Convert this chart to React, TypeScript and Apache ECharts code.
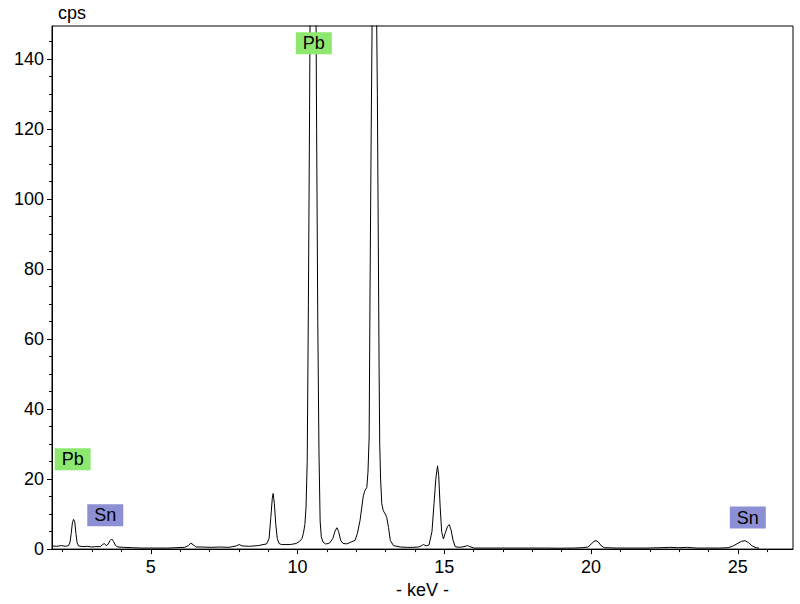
import React, { useEffect, useRef } from "react";
import * as echarts from "echarts";

// Spectrum: energy (keV) and count rate (cps)
const energyKeV = [
  1.64, 1.8, 1.95, 2.1, 2.2, 2.25, 2.29, 2.33, 2.37, 2.41, 2.45, 2.49, 2.54, 2.69, 2.84, 2.99,
  3.13, 3.28, 3.36, 3.42, 3.48, 3.54, 3.61, 3.67, 3.73, 3.8, 3.88, 4.08, 4.37, 4.67, 4.97, 5.27,
  5.57, 5.86, 6.16, 6.28, 6.36, 6.44, 6.54, 6.76, 7.06, 7.36, 7.66, 7.91, 8.01, 8.11, 8.36, 8.66,
  8.95, 9.03, 9.09, 9.14, 9.17, 9.21, 9.26, 9.31, 9.37, 9.45, 9.75, 9.95, 10.07, 10.15, 10.2, 10.25,
  10.29, 10.33, 10.37, 10.41, 10.45, 10.49, 10.53, 10.57, 10.61, 10.65, 10.69, 10.73, 10.77, 10.81,
  10.87, 10.95, 11.0, 11.1, 11.2, 11.28, 11.34, 11.4, 11.47, 11.55, 11.68, 11.79, 11.96, 12.04,
  12.13, 12.24, 12.3, 12.36, 12.4, 12.44, 12.47, 12.51, 12.54, 12.58, 12.61, 12.65, 12.68, 12.72,
  12.75, 12.78, 12.8, 12.83, 12.87, 12.92, 12.99, 13.04, 13.1, 13.16, 13.27, 13.5, 13.74, 13.93,
  14.13, 14.23, 14.29, 14.38, 14.48, 14.58, 14.65, 14.71, 14.77, 14.81, 14.86, 14.91, 14.97, 15.03,
  15.11, 15.17, 15.23, 15.3, 15.37, 15.52, 15.67, 15.79, 15.87, 16.02, 16.42, 16.92, 17.41, 17.91,
  18.41, 18.9, 19.4, 19.7, 19.9, 20.0, 20.1, 20.17, 20.25, 20.35, 20.45, 20.9, 21.39, 21.89, 22.38,
  22.68, 22.98, 23.28, 23.58, 23.87, 24.37, 24.67, 24.82, 24.97, 25.12, 25.25, 25.37, 25.49, 25.62,
  25.72,
];
const countsCps = [
  0.9, 0.8, 1.0, 0.8, 1.0, 2.0, 4.5, 7.5, 8.5, 7.8, 4.5, 1.8, 0.9, 0.7, 0.8, 0.6,
  0.7, 0.7, 1.3, 1.6, 1.0, 1.3, 2.4, 2.9, 2.2, 1.0, 0.6, 0.5, 0.4, 0.3, 0.3, 0.3,
  0.3, 0.4, 0.5, 1.0, 1.7, 1.3, 0.6, 0.6, 0.5, 0.6, 0.5, 0.9, 1.3, 0.9, 0.8, 1.0,
  1.5, 3.0, 9.0, 14.5, 15.9, 13.0, 7.0, 3.0, 1.6, 1.3, 1.3, 1.6, 2.2, 3.0, 4.5, 7.0,
  12, 25, 70, 125, 190, 245, 265, 243, 185, 120, 65, 28, 8, 3.5,
  2.0, 1.5, 1.5, 1.8, 3.0, 5.2, 6.1, 5.0, 2.5, 1.6, 1.5, 1.9, 2.5, 4.5,
  8.2, 15.2, 16.8, 17.6, 22, 32, 74, 120, 150, 190, 200, 185, 165, 130,
  90, 50, 30, 20, 13, 11, 10, 9, 6.2, 2.5, 1.0, 0.6, 0.5, 0.5,
  0.6, 1.0, 1.3, 0.9, 1.2, 5, 13, 20, 23.8, 21, 12, 5, 2.9, 4.5,
  6.5, 7.0, 5.5, 2.5, 0.7, 0.5, 0.7, 1.0, 0.7, 0.3, 0.3, 0.3, 0.3, 0.3,
  0.3, 0.25, 0.3, 0.4, 0.6, 1.4, 2.2, 2.4, 2.0, 0.9, 0.4, 0.3, 0.3, 0.3, 0.4,
  0.5, 0.4, 0.5, 0.3, 0.3, 0.3, 0.4, 0.8, 1.5, 2.2, 2.4, 1.8, 0.9, 0.4,
  0.3,
];

// Axes
const X_MIN = 1.635;
const X_MAX = 26.88;
const Y_MIN = 0;
const Y_MAX = 149.5;
const majorXTicks = [5, 10, 15, 20, 25];
const minorXTicks = [2, 3, 4, 6, 7, 8, 9, 11, 12, 13, 14, 16, 17, 18, 19, 21, 22, 23, 24, 26];
const majorYTicks = [0, 20, 40, 60, 80, 100, 120, 140];
const minorYTicks = [5, 10, 15, 25, 30, 35, 45, 50, 55, 65, 70, 75, 85, 90, 95, 105, 110, 115, 125, 130, 135, 145];

// Element markers
const peakLabels = ["Pb", "Pb", "Sn", "Sn"];
const peakLabelEnergy = [2.34, 10.555, 3.45, 25.34];
const peakLabelCps = [25.7, 144.6, 9.7, 9.0];

const elementColors: Record<string, string> = { Pb: "#8ee870", Sn: "#8c8fd4" };
const FONT = '"Liberation Sans", Arial, sans-serif';
const FS = 18;

export default function App() {
  const ref = useRef<HTMLDivElement>(null);
  useEffect(() => {
    if (!ref.current) return;
    const chart = echarts.init(ref.current, null, { renderer: "svg" });
    const axisLineStyle = { color: "#000", width: 1 };
    const option: any = {
      animation: false,
      backgroundColor: "#fff",
      textStyle: { fontFamily: FONT },
      grid: {
        left: 52,
        right: 7,
        top: 26,
        bottom: 51,
        show: true,
        borderColor: "#000",
        borderWidth: 1,
        backgroundColor: "transparent",
      },
      graphic: [
        {
          type: "text",
          left: 58,
          top: 4,
          style: { text: "cps", fill: "#000", font: `${FS}px ${FONT}` },
        },
      ],
      xAxis: [
        {
          type: "value",
          position: "bottom",
          min: X_MIN,
          max: X_MAX,
          name: "- keV -",
          nameLocation: "middle",
          nameGap: 30,
          nameTextStyle: { color: "#000", fontSize: FS, fontFamily: FONT },
          axisLine: { show: true, lineStyle: axisLineStyle },
          axisTick: { show: true, length: 5, customValues: majorXTicks, lineStyle: axisLineStyle },
          axisLabel: {
            show: true,
            customValues: majorXTicks,
            color: "#000",
            fontSize: FS,
            fontFamily: FONT,
            margin: 9,
          },
          splitLine: { show: false },
        },
        {
          type: "value",
          position: "bottom",
          min: X_MIN,
          max: X_MAX,
          axisLine: { show: false },
          axisTick: { show: true, length: 3, customValues: minorXTicks, lineStyle: axisLineStyle },
          axisLabel: { show: false },
          splitLine: { show: false },
        },
      ],
      yAxis: [
        {
          type: "value",
          position: "left",
          min: Y_MIN,
          max: Y_MAX,
          axisLine: { show: true, lineStyle: axisLineStyle },
          axisTick: { show: true, length: 5, customValues: majorYTicks, lineStyle: axisLineStyle },
          axisLabel: {
            show: true,
            customValues: majorYTicks,
            color: "#000",
            fontSize: FS,
            fontFamily: FONT,
            margin: 8,
          },
          splitLine: { show: false },
        },
        {
          type: "value",
          position: "left",
          min: Y_MIN,
          max: Y_MAX,
          axisLine: { show: false },
          axisTick: { show: true, length: 3, customValues: minorYTicks, lineStyle: axisLineStyle },
          axisLabel: { show: false },
          splitLine: { show: false },
        },
      ],
      series: [
        {
          type: "line",
          xAxisIndex: 0,
          yAxisIndex: 0,
          data: energyKeV.map((e, i) => [e, countsCps[i]]),
          showSymbol: false,
          symbol: "none",
          clip: true,
          lineStyle: { color: "#000", width: 1 },
          markPoint: {
            silent: true,
            symbol: "rect",
            symbolSize: [36, 22],
            label: {
              show: true,
              position: "inside",
              formatter: "{b}",
              color: "#000",
              fontSize: FS,
              fontFamily: FONT,
            },
            data: peakLabels.map((name, i) => ({
              name,
              coord: [peakLabelEnergy[i], peakLabelCps[i]],
              itemStyle: { color: elementColors[name] },
            })),
          },
        },
      ],
    };
    chart.setOption(option);
    return () => chart.dispose();
  }, []);
  return (
    <div
      ref={ref}
      style={{ position: "fixed", left: 0, top: 0, width: 800, height: 604, background: "#fff" }}
    />
  );
}
